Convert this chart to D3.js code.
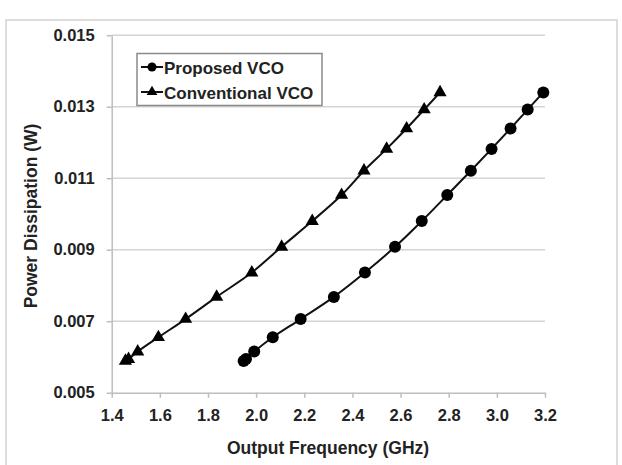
<!DOCTYPE html>
<html>
<head>
<meta charset="utf-8">
<script src="https://d3js.org/d3.v7.min.js"></script>
<style>
  body { margin: 0; background: #fff; }
  svg { display: block; font-family: "Liberation Sans", Arial, sans-serif; }
</style>
</head>
<body>
<svg id="chart" width="622" height="465"></svg>
<script>
// data
const proposedFreq = [1.948, 1.958, 1.992, 2.069, 2.185, 2.323, 2.452, 2.577, 2.688, 2.794, 2.892, 2.978, 3.057, 3.128, 3.193];
const conventionalFreq = [1.457, 1.470, 1.508, 1.594, 1.707, 1.836, 1.982, 2.106, 2.233, 2.355, 2.448, 2.542, 2.625, 2.698, 2.764];
const powerLevels = [0.00589, 0.00594, 0.00615, 0.00655, 0.00706, 0.00768, 0.00836, 0.00908, 0.00980, 0.01053, 0.01121, 0.01182, 0.01239, 0.01292, 0.01340];
const xTicks = [1.4, 1.6, 1.8, 2.0, 2.2, 2.4, 2.6, 2.8, 3.0, 3.2];
const yTicks = [0.005, 0.007, 0.009, 0.011, 0.013, 0.015];
const seriesNames = ["Proposed VCO", "Conventional VCO"];

const svg = d3.select("#chart");
const ink = "#222";

// outer frame
svg.append("rect")
  .attr("x", 6).attr("y", 20)
  .attr("width", 611).attr("height", 460)
  .attr("fill", "none").attr("stroke", "#d2d2d2").attr("stroke-width", 1.5);

const xs = d3.scaleLinear().domain([1.4, 3.2]).range([111.7, 545]);
const ys = d3.scaleLinear().domain([0.005, 0.015]).range([392.7, 35.2]);

// gridlines
svg.append("g").selectAll("line")
  .data(yTicks.slice(1))
  .enter().append("line")
  .attr("x1", xs(1.4)).attr("x2", xs(3.2))
  .attr("y1", d => ys(d)).attr("y2", d => ys(d))
  .attr("stroke", "#d4d4d4").attr("stroke-width", 1.5);

const xAxis = d3.axisBottom(xs).tickValues(xTicks).tickFormat(d3.format(".1f"))
  .tickSizeInner(5).tickSizeOuter(0).tickPadding(8);
const yAxis = d3.axisLeft(ys).tickValues(yTicks).tickFormat(d3.format(".3f"))
  .tickSizeInner(5).tickSizeOuter(0).tickPadding(12);

const gx = svg.append("g").attr("transform", `translate(0,${ys(0.005)})`).call(xAxis);
const gy = svg.append("g").attr("transform", `translate(${xs(1.4)},0)`).call(yAxis);

[gx, gy].forEach(g => {
  g.select(".domain").attr("stroke", "#bdbdbd").attr("stroke-width", 1.5);
  g.selectAll(".tick line").attr("stroke", "#bdbdbd").attr("stroke-width", 1.5);
  g.selectAll(".tick text")
    .attr("fill", ink)
    .style("font-size", "16.5px")
    .style("font-weight", "bold")
    .style("font-family", "'Liberation Sans', Arial, sans-serif");
});
gx.selectAll(".tick text").attr("dy", "0.95em");

// axis titles
svg.append("text")
  .attr("x", 328).attr("y", 454)
  .attr("text-anchor", "middle")
  .attr("fill", ink)
  .style("font-size", "17.5px").style("font-weight", "bold")
  .text("Output Frequency (GHz)");
svg.append("text")
  .attr("transform", "translate(37,216) rotate(-90)")
  .attr("text-anchor", "middle")
  .attr("fill", ink)
  .style("font-size", "17.5px").style("font-weight", "bold")
  .text("Power Dissipation (W)");

// series
const line = d3.line().curve(d3.curveCatmullRom);
const proposed = proposedFreq.map((f, i) => [xs(f), ys(powerLevels[i])]);
const conventional = conventionalFreq.map((f, i) => [xs(f), ys(powerLevels[i])]);

svg.append("path").attr("d", line(conventional))
  .attr("fill", "none").attr("stroke", "#111").attr("stroke-width", 2);
svg.append("path").attr("d", line(proposed))
  .attr("fill", "none").attr("stroke", "#111").attr("stroke-width", 2);

const tri = d3.symbol().type(d3.symbolTriangle).size(75);
svg.append("g").selectAll("path")
  .data(conventional)
  .enter().append("path")
  .attr("d", tri)
  .attr("transform", d => `translate(${d[0]},${d[1]})`)
  .attr("fill", "#000");

svg.append("g").selectAll("circle")
  .data(proposed)
  .enter().append("circle")
  .attr("cx", d => d[0]).attr("cy", d => d[1])
  .attr("r", 6).attr("fill", "#000");

// legend
const lg = svg.append("g");
lg.append("rect")
  .attr("x", 137).attr("y", 53.5)
  .attr("width", 185).attr("height", 52)
  .attr("fill", "#fff").attr("stroke", "#8a8a8a").attr("stroke-width", 1.5);

seriesNames.forEach((name, i) => {
  const cy = 67 + i * 25;
  lg.append("line")
    .attr("x1", 141).attr("x2", 163)
    .attr("y1", cy).attr("y2", cy)
    .attr("stroke", "#111").attr("stroke-width", 2);
  if (i === 0) {
    lg.append("circle").attr("cx", 152).attr("cy", cy).attr("r", 4.5).attr("fill", "#000");
  } else {
    lg.append("path").attr("d", d3.symbol().type(d3.symbolTriangle).size(50))
      .attr("transform", `translate(152,${cy})`).attr("fill", "#000");
  }
  lg.append("text")
    .attr("x", 164).attr("y", cy + 6.5)
    .attr("fill", ink)
    .style("font-size", "17px").style("font-weight", "bold")
    .text(name);
});
</script>
</body>
</html>
